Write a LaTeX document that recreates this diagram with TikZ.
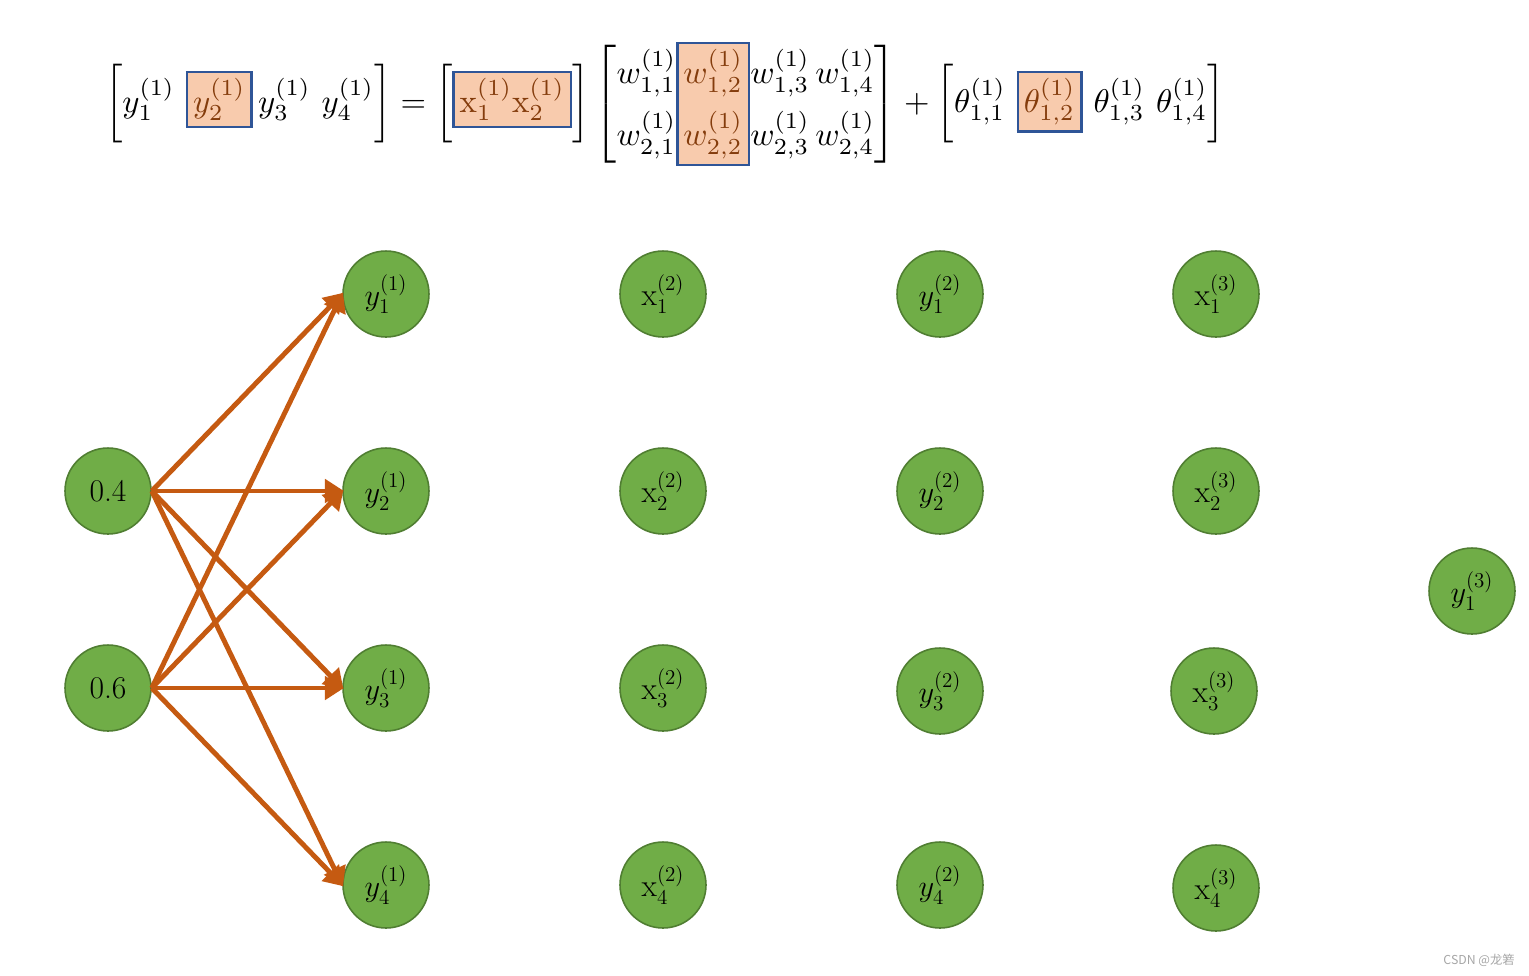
\documentclass[tikz,border=0pt]{standalone}
\usepackage{amsmath}
\usepackage{fontspec}
\newfontfamily\cjkfont{Noto Sans CJK SC}
\usetikzlibrary{arrows.meta}
\definecolor{nodegreen}{HTML}{70AD47}
\definecolor{nodeborder}{HTML}{507E32}
\definecolor{arrowc}{HTML}{C55A11}
\definecolor{hlfill}{HTML}{F8CBAD}
\definecolor{hlborder}{HTML}{2F5597}
\definecolor{hltext}{HTML}{843C0C}
\newcommand\hlbox[1]{{\setlength\fboxsep{1.5pt}\setlength\fboxrule{0.7pt}\fcolorbox{hlborder}{hlfill}{$\color{hltext}#1$}}}
\tikzset{
  neuron/.style={circle, fill=nodegreen, draw=nodeborder, line width=0.9pt, minimum size=1.72cm, inner sep=0pt, font=\fontsize{18}{21}\selectfont},
  conn/.style={draw=arrowc, line width=2.8pt, -{Triangle[length=0.38cm,width=0.46cm]}, shorten >=-1pt}
}
\begin{document}
\begin{tikzpicture}[x=0.02cm,y=-0.02cm]
\useasboundingbox (0,0) rectangle (1529,975);
% equation
\node (eq) at (665,104) {\resizebox{22.4cm}{!}{$\left[y_1^{(1)}\ \hlbox{y_2^{(1)}}\,y_3^{(1)}\ y_4^{(1)}\right] = \left[\hlbox{\mathrm{x}_1^{(1)}\mathrm{x}_2^{(1)}}\right]\left[\begin{array}{@{}c@{}} w_{1,1}^{(1)}\\[5pt] w_{2,1}^{(1)}\end{array}\hlbox{\begin{array}{@{}c@{}} w_{1,2}^{(1)}\\[5pt] w_{2,2}^{(1)}\end{array}}\begin{array}{@{}c@{\,}c@{}} w_{1,3}^{(1)} & w_{1,4}^{(1)}\\[5pt] w_{2,3}^{(1)} & w_{2,4}^{(1)}\end{array}\right] + \left[\theta_{1,1}^{(1)}\ \hlbox{\theta_{1,2}^{(1)}}\ \theta_{1,3}^{(1)}\ \theta_{1,4}^{(1)}\right]$}};
% input layer
\node[neuron] (i1) at (108,491) {0.4};
\node[neuron] (i2) at (108,688) {0.6};
% layer y(1)
\node[neuron] (a1) at (386,294) {$y_1^{(1)}$};
\node[neuron] (a2) at (386,491) {$y_2^{(1)}$};
\node[neuron] (a3) at (386,688) {$y_3^{(1)}$};
\node[neuron] (a4) at (386,885) {$y_4^{(1)}$};
% layer x(2)
\node[neuron] (b1) at (663,294) {$\mathrm{x}_1^{(2)}$};
\node[neuron] (b2) at (663,491) {$\mathrm{x}_2^{(2)}$};
\node[neuron] (b3) at (663,688) {$\mathrm{x}_3^{(2)}$};
\node[neuron] (b4) at (663,885) {$\mathrm{x}_4^{(2)}$};
% layer y(2)
\node[neuron] (c1) at (940,294) {$y_1^{(2)}$};
\node[neuron] (c2) at (940,491) {$y_2^{(2)}$};
\node[neuron] (c3) at (940,691) {$y_3^{(2)}$};
\node[neuron] (c4) at (940,885) {$y_4^{(2)}$};
% layer x(3)
\node[neuron] (d1) at (1216,294) {$\mathrm{x}_1^{(3)}$};
\node[neuron] (d2) at (1216,491) {$\mathrm{x}_2^{(3)}$};
\node[neuron] (d3) at (1214,691) {$\mathrm{x}_3^{(3)}$};
\node[neuron] (d4) at (1216,888) {$\mathrm{x}_4^{(3)}$};
% output
\node[neuron] (o1) at (1472,591) {$y_1^{(3)}$};
% connections
\foreach \s in {i1,i2}
  \foreach \t in {a1,a2,a3,a4}
    \draw[conn] (\s.east) -- (\t.west);
% watermark
\node[anchor=east, text=gray!70, font=\cjkfont\fontsize{7}{8}\selectfont, inner sep=0pt] (wm) at (1515,960) {CSDN @龙箬};
\end{tikzpicture}
\end{document}
